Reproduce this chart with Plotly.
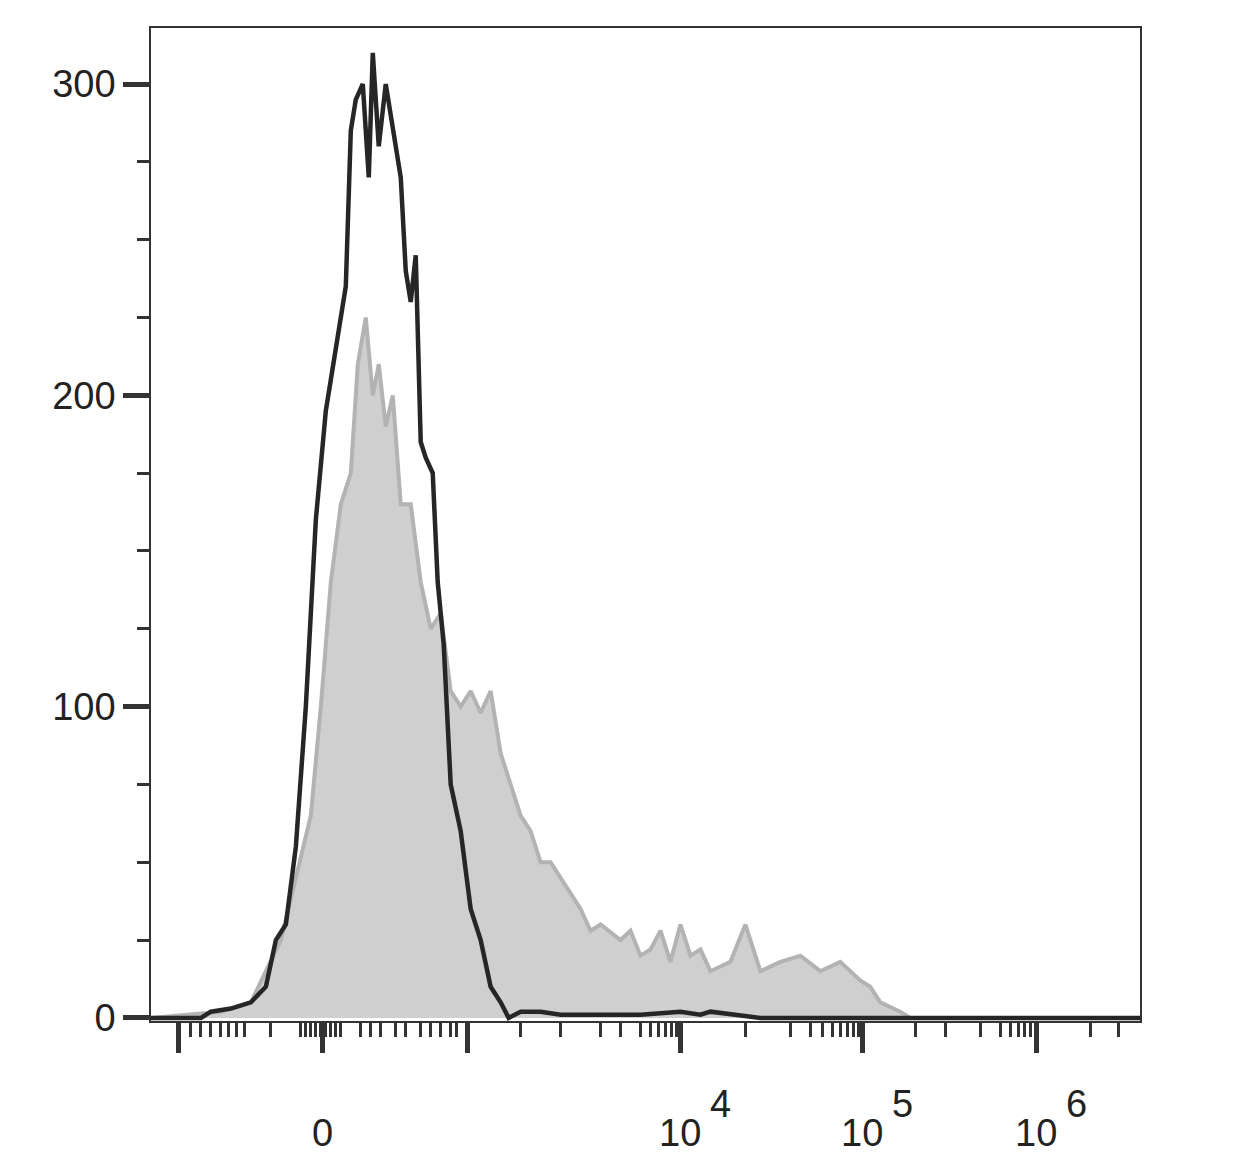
import plotly.graph_objects as go

# x is display channel of a biexponential axis
black_x = [150, 200, 210, 230, 250, 265, 275, 285, 295, 305, 315, 325, 335, 345, 350, 355, 362, 368, 372, 378,
           385, 392, 400, 405, 410, 415, 420, 425, 432, 437, 443, 450, 460, 470, 480, 490, 500, 508, 520, 540,
           560, 600, 640, 680, 700, 710, 740, 760, 1140]
black_y = [0, 0, 2, 3, 5, 10, 25, 30, 55, 100, 160, 195, 215, 235, 285, 295, 300, 270, 310, 280,
           300, 285, 270, 240, 230, 245, 185, 180, 175, 140, 120, 75, 60, 35, 25, 10, 5, 0, 2, 2,
           1, 1, 1, 2, 1, 2, 1, 0, 0]

gray_x = [150, 220, 250, 265, 280, 295, 310, 320, 330, 340, 350, 357, 365, 372, 378, 385, 392, 400, 410, 420,
          430, 440, 450, 460, 470, 480, 490, 500, 510, 520, 530, 540, 550, 560, 570, 580, 590, 600, 620, 630,
          640, 650, 660, 670, 680, 690, 700, 710, 730, 745, 760, 780, 800, 820, 840, 860, 870, 880, 900, 910, 1140]
gray_y = [0, 2, 5, 15, 25, 45, 65, 100, 140, 165, 175, 210, 225, 200, 210, 190, 200, 165, 165, 140,
          125, 130, 105, 100, 105, 98, 105, 85, 75, 65, 60, 50, 50, 45, 40, 35, 28, 30, 25, 28,
          20, 22, 28, 18, 30, 20, 22, 15, 18, 30, 15, 18, 20, 15, 18, 12, 10, 5, 2, 0, 0]

major_x = [178, 322, 467, 680, 862, 1036]
minor_x = [190, 200, 210, 220, 228, 236, 244, 270, 300, 305, 310, 315, 320, 325, 330, 335, 340, 360, 370, 380,
           395, 405, 420, 430, 440, 450, 456, 520, 560, 600, 620, 640, 650, 658, 665, 671, 676, 745, 790, 810,
           822, 832, 840, 847, 853, 858, 915, 945, 980, 1000, 1010, 1018, 1024, 1030, 1090, 1118]
x_labels = ["0", "10", "10", "10"]
x_exps = ["", "4", "5", "6"]
x_label_pos = [322, 680, 862, 1036]

fig = go.Figure()
fig.add_trace(go.Scatter(x=gray_x, y=gray_y, mode='lines', fill='tozeroy',
                         fillcolor='#cfcfcf', line=dict(color='#b3b3b3', width=4)))
fig.add_trace(go.Scatter(x=black_x, y=black_y, mode='lines',
                         line=dict(color='#262626', width=4.5)))

for pos, txt, ex in zip(x_label_pos, x_labels, x_exps):
    fig.add_annotation(x=pos, y=-0.09, xref='x', yref='paper', yanchor='top', text=txt,
                       showarrow=False, font=dict(size=38, color='#222'))
    if ex:
        fig.add_annotation(x=pos + 40, y=-0.06, xref='x', yref='paper', yanchor='top', text=ex,
                           showarrow=False, font=dict(size=38, color='#222'))

fig.update_layout(
    width=1240, height=1170, showlegend=False,
    plot_bgcolor='white', paper_bgcolor='white',
    margin=dict(l=143, r=108, t=20, b=157),
    font=dict(family='Liberation Sans, Arial', size=38, color='#222'),
)
fig.update_xaxes(range=[150, 1140], showgrid=False, zeroline=False, showline=True, mirror=True,
                 linecolor='#333', linewidth=1.5, tickvals=major_x, ticktext=[''] * len(major_x),
                 ticks='outside', ticklen=30, tickwidth=5, tickcolor='#333',
                 minor=dict(tickvals=minor_x, ticks='outside', ticklen=14, tickwidth=3, tickcolor='#333'))
fig.update_yaxes(range=[-1, 318], showgrid=False, zeroline=False, showline=True, mirror=True,
                 linecolor='#333', linewidth=1.5, tickvals=[0, 100, 200, 300],
                 ticks='outside', ticklen=26, tickwidth=5, tickcolor='#333',
                 minor=dict(dtick=25, ticks='outside', ticklen=12, tickwidth=3, tickcolor='#333'))
fig.write_html("out.html")
